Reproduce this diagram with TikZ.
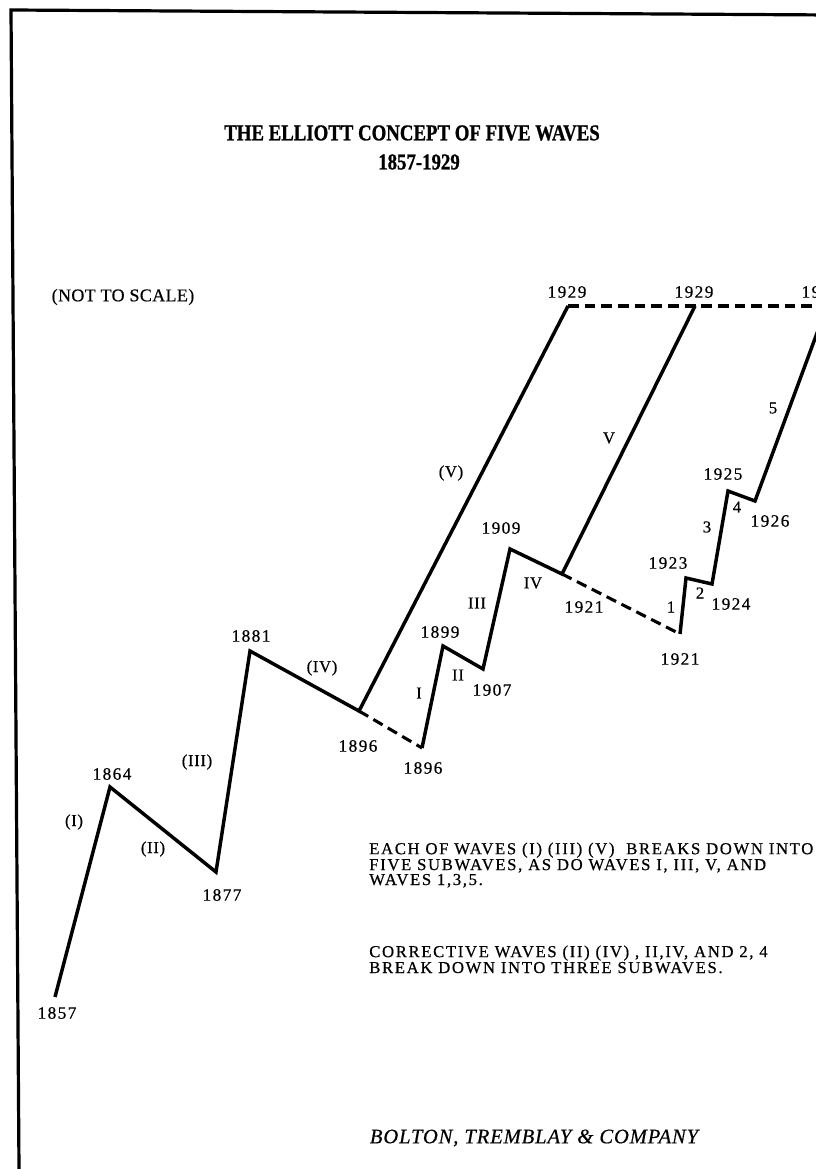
\documentclass[tikz,border=0pt]{standalone}
\usepackage{fontspec}
\setmainfont{Liberation Serif}
\newfontfamily\yearfont[LetterSpace=8, FakeBold=0.6]{Liberation Serif}
\newfontfamily\wavefont[LetterSpace=4, FakeBold=0.6]{Liberation Serif}
\newfontfamily\notefont[LetterSpace=10, FakeBold=0.6]{Liberation Serif}
\newfontfamily\scalefont[LetterSpace=2, FakeBold=0.4]{Liberation Serif}
\newfontfamily\titlefont[FakeStretch=0.83, FakeBold=0.9]{Liberation Serif}
\newfontfamily\firmfont[LetterSpace=4, FakeBold=0.4]{Liberation Serif}
\usetikzlibrary{arrows.meta, positioning, calc}

\begin{document}
\begin{tikzpicture}[x=0.75pt, y=-0.75pt,
  wave/.style={line width=2.6pt},
  proj/.style={line width=2.3pt, dash pattern=on 8pt off 4.5pt},
  yr/.style={font=\yearfont\fontsize{13}{14}\selectfont, inner sep=0pt},
  wl/.style={font=\wavefont\fontsize{12.5}{14}\selectfont, inner sep=0pt},
  note/.style={font=\notefont\fontsize{12.5}{10.1}\selectfont, align=left, inner sep=0pt, anchor=base west}]
  \useasboundingbox (0,0) rectangle (816,1169);
  \clip (0,0) rectangle (816,1169);

  % Frame
  \draw[line width=2.4pt] (19,1169) -- (11,10) -- (830,15);

  % Titles
  \node[font=\titlefont\bfseries\fontsize{17}{19}\selectfont, inner sep=0pt] (title) at (412,133) {THE ELLIOTT CONCEPT OF FIVE WAVES};
  \node[font=\titlefont\bfseries\fontsize{17}{19}\selectfont, inner sep=0pt] (subtitle) at (419,162) {1857-1929};
  \node[font=\scalefont\fontsize{13.5}{14}\selectfont, inner sep=0pt] (scale) at (123,297) {(NOT TO SCALE)};

  % Turning points
  \coordinate (p1857) at (55,997);
  \coordinate (p1864) at (110,787);
  \coordinate (p1877) at (216,872);
  \coordinate (p1881) at (250,651);
  \coordinate (p1896a) at (359,711);
  \coordinate (p1929a) at (568,306);
  \coordinate (p1896b) at (422,748);
  \coordinate (p1899) at (443,646);
  \coordinate (p1907) at (483,669);
  \coordinate (p1909) at (510,549);
  \coordinate (p1921a) at (562,574);
  \coordinate (p1929b) at (695,306);
  \coordinate (p1921b) at (680,634);
  \coordinate (p1923) at (686,578);
  \coordinate (p1924) at (712,584);
  \coordinate (p1925) at (728,491);
  \coordinate (p1926) at (755,501);
  \coordinate (p1929c) at (827,306);

  % Waves
  \draw[wave] (p1857) -- (p1864) -- (p1877) -- (p1881) -- (p1896a) -- (p1929a);
  \draw[wave] (p1896b) -- (p1899) -- (p1907) -- (p1909) -- (p1921a) -- (p1929b);
  \draw[wave] (p1921b) -- (p1923) -- (p1924) -- (p1925) -- (p1926) -- (p1929c);

  % Links between degrees
  \draw[proj] (p1896a) -- (p1896b);
  \draw[proj] (p1921a) -- (p1921b);
  \draw[proj] (p1929a) -- (p1929b) -- (p1929c);

  % Years
  \node[yr] (t1857) at (57,1013) {1857};
  \node[yr] (t1864) at (112,774) {1864};
  \node[yr] (t1877) at (222,895) {1877};
  \node[yr] (t1881) at (251,636) {1881};
  \node[yr] (t1896a) at (358,746) {1896};
  \node[yr] (t1896b) at (423,768) {1896};
  \node[yr] (t1899) at (440,632) {1899};
  \node[yr] (t1907) at (492,690) {1907};
  \node[yr] (t1909) at (501,528) {1909};
  \node[yr] (t1921a) at (584,607) {1921};
  \node[yr] (t1921b) at (680,659) {1921};
  \node[yr] (t1923) at (668,563) {1923};
  \node[yr] (t1924) at (731,604) {1924};
  \node[yr] (t1925) at (723,474) {1925};
  \node[yr] (t1926) at (770,521) {1926};
  \node[yr] (t1929a) at (567,292) {1929};
  \node[yr] (t1929b) at (694,292) {1929};
  \node[yr] (t1929c) at (821,292) {1929};

  % Wave numbers
  \node[wl] (wI) at (74,822) {(I)};
  \node[wl] (wII) at (153,849) {(II)};
  \node[wl] (wIII) at (197,762) {(III)};
  \node[wl] (wIV) at (322,668) {(IV)};
  \node[wl] (wV) at (451,473) {(V)};
  \node[wl] (sI) at (419,693) {I};
  \node[wl] (sII) at (458,675) {II};
  \node[wl] (sIII) at (477,603) {III};
  \node[wl] (sIV) at (533,583) {IV};
  \node[wl] (sV) at (609,438) {V};
  \node[wl] (m1) at (671,607) {1};
  \node[wl] (m2) at (700,593) {2};
  \node[wl] (m3) at (707,527) {3};
  \node[wl] (m4) at (737,507) {4};
  \node[wl] (m5) at (773,408) {5};

  % Notes
  \node[note] (noteA) at (369,885) {EACH OF WAVES (I) (III) (V)\ \ BREAKS DOWN INTO\\FIVE SUBWAVES, AS DO WAVES I, III, V, AND\\WAVES 1,3,5.};
  \node[note] (noteB) at (369,973) {CORRECTIVE WAVES (II) (IV) , II,IV, AND 2, 4\\BREAK DOWN INTO THREE SUBWAVES.};
  \node[font=\firmfont\itshape\fontsize{15.5}{17}\selectfont, inner sep=0pt] (firm) at (534,1138) {BOLTON, TREMBLAY \& COMPANY};
\end{tikzpicture}
\end{document}
